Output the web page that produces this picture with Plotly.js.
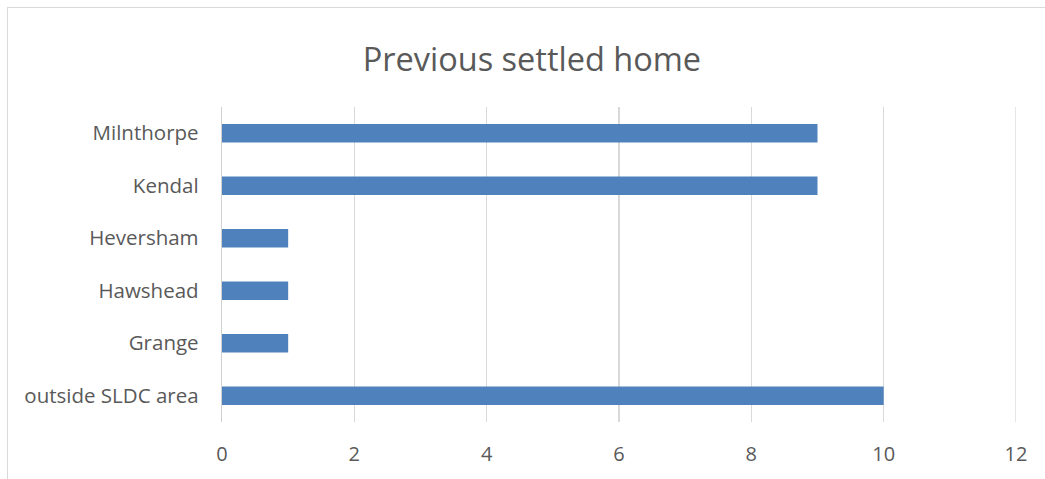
<!DOCTYPE html>
<html>
<head>
<meta charset="utf-8">
<script src="https://cdn.plot.ly/plotly-3.0.1.min.js"></script>
<style>
html,body{margin:0;padding:0;background:#fff;}
#wrap{position:relative;width:1045px;height:479px;overflow:hidden;}
#chart{width:1045px;height:479px;}
#frame{position:absolute;left:7px;top:7px;width:1100px;height:600px;border-left:1px solid #d9d9d9;border-top:1px solid #d9d9d9;pointer-events:none;}
</style>
</head>
<body>
<div id="wrap"><div id="chart"></div><div id="frame"></div></div>
<script>
var categories = ["outside SLDC area", "Grange", "Hawshead", "Heversham", "Kendal", "Milnthorpe"];
var values = [10, 1, 1, 1, 9, 9];
var xTicks = [0, 2, 4, 6, 8, 10, 12];

var trace = {
  type: 'bar',
  orientation: 'h',
  y: categories,
  x: values,
  width: 0.35,
  marker: {color: '#4f81bd'},
  hoverinfo: 'x+y'
};

var fontFam = '"Open Sans", "Noto Sans", sans-serif';
var xMax = xTicks[xTicks.length - 1];

var layout = {
  width: 1045,
  height: 479,
  margin: {l: 222, r: 29, t: 107, b: 57},
  paper_bgcolor: '#fff',
  plot_bgcolor: '#fff',
  showlegend: false,
  font: {family: fontFam, color: '#595959', size: 20},
  title: {text: 'Previous settled home', font: {size: 32.5, color: '#595959', family: fontFam}, x: 0.509, xanchor: 'center', y: 0.875, yanchor: 'middle'},
  xaxis: {
    range: [0, xMax],
    tickvals: xTicks,
    ticktext: xTicks.map(String),
    showgrid: true,
    gridcolor: '#d9d9d9',
    gridwidth: 1.3,
    zeroline: false,
    showline: false,
    ticks: 'outside',
    ticklen: 14,
    tickcolor: 'rgba(0,0,0,0)',
    tickfont: {size: 20, color: '#595959'},
    fixedrange: true
  },
  yaxis: {
    type: 'category',
    categoryorder: 'array',
    categoryarray: categories,
    showgrid: false,
    zeroline: false,
    showline: true,
    linecolor: '#d0d0d0',
    linewidth: 1.3,
    ticks: 'outside',
    ticklen: 18,
    tickcolor: 'rgba(0,0,0,0)',
    tickfont: {size: 20.5, color: '#595959'},
    fixedrange: true
  },
  shapes: [{
    type: 'line', xref: 'x', yref: 'paper',
    x0: xMax, x1: xMax, y0: 0, y1: 1,
    line: {color: '#d9d9d9', width: 1.3},
    layer: 'below'
  }],
  bargap: 0.65
};

Plotly.newPlot('chart', [trace], layout, {displayModeBar: false, staticPlot: true});
</script>
</body>
</html>
